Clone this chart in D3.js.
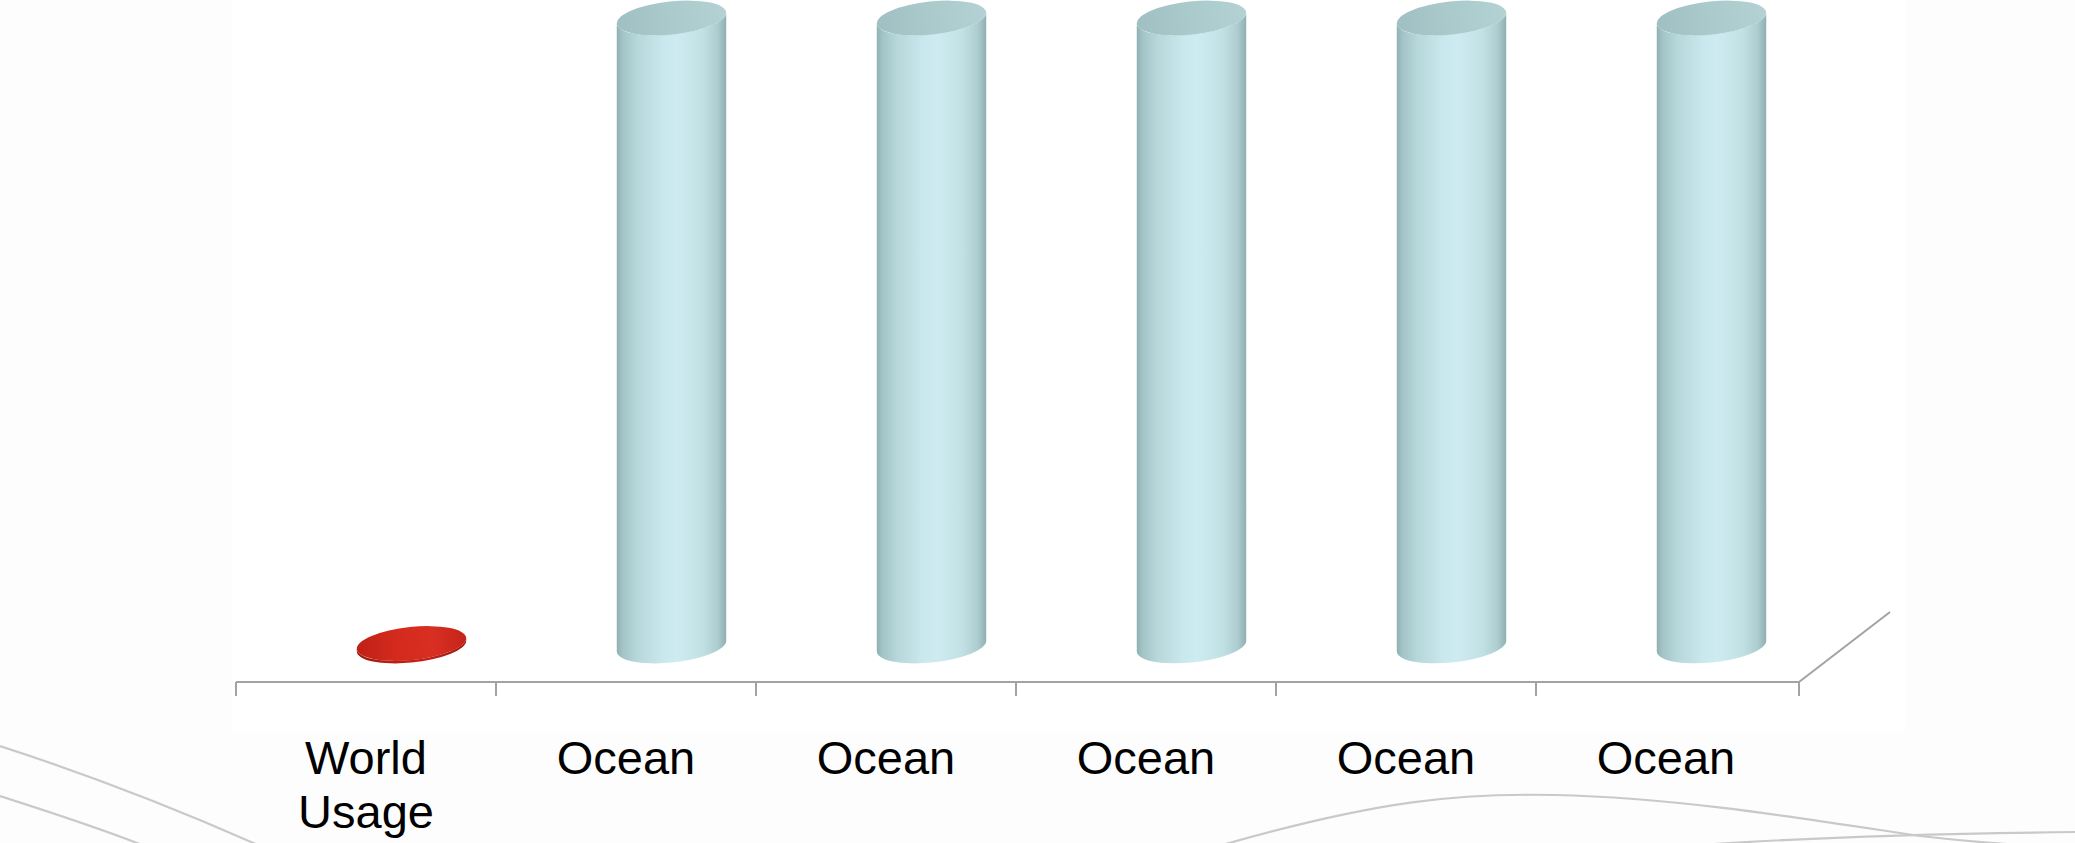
<!DOCTYPE html>
<html>
<head>
<meta charset="utf-8">
<script src="https://cdn.jsdelivr.net/npm/d3@7"></script>
<style>
  html, body { margin: 0; padding: 0; background: #ffffff; }
  svg { display: block; }
  .cat { font-family: "Liberation Sans", Arial, sans-serif; font-size: 47px; fill: #000; }
</style>
</head>
<body>
<svg id="chart" width="2075" height="843"></svg>
<script>
// Categories and values (share of water, %)
const categories = ["World Usage", "Ocean", "Ocean", "Ocean", "Ocean", "Ocean"];
const values = [0.4, 100, 100, 100, 100, 100];
const barKinds = ["usage", "ocean", "ocean", "ocean", "ocean", "ocean"];

const W = 2075, H = 843;
const svg = d3.select("#chart");

// Plot geometry
const axisY = 682;
const depth = { dx: 91, dy: -70 };   // floor depth (3D projection)
const plotLeft = 236, plotRight = 1796;
const maxBarPx = 628;
const rx = 55, ry = 16.5, tilt = -6; // cylinder ellipse shape

const x = d3.scaleBand().domain(d3.range(categories.length)).range([plotLeft, plotRight]).padding(0);
const y = d3.scaleLinear().domain([0, 100]).range([0, maxBarPx]);

const defs = svg.append("defs");

function hGrad(id, stops) {
  const g = defs.append("linearGradient").attr("id", id).attr("x1", "0%").attr("x2", "100%").attr("y1", "0%").attr("y2", "0%");
  stops.forEach(([o, c]) => g.append("stop").attr("offset", o).attr("stop-color", c));
}
hGrad("oceanBody", [["0%", "#8fafb2"], ["5%", "#a3c4c7"], ["18%", "#b6d6da"], ["42%", "#c9e8ed"], ["55%", "#cdebf0"], ["78%", "#c2e1e5"], ["92%", "#adcdd0"], ["100%", "#90afb2"]]);
hGrad("oceanTop", [["0%", "#9fbfc2"], ["45%", "#a9c9cb"], ["100%", "#b4d2d4"]]);
hGrad("usageBody", [["0%", "#9a180f"], ["30%", "#b81e13"], ["60%", "#c2241a"], ["100%", "#9c1a10"]]);
hGrad("usageTop", [["0%", "#c01f15"], ["35%", "#d42a1e"], ["70%", "#d82f22"], ["100%", "#c5241a"]]);

// Page background panel
svg.append("rect").attr("x", 0).attr("y", 0).attr("width", W).attr("height", H).attr("fill", "#fdfdfd");
svg.append("rect").attr("x", 232).attr("y", 0).attr("width", 1673).attr("height", 732).attr("fill", "#ffffff");

// Decorative sweeping lines
const swoosh = [
  "M0,746 C80,772 170,806 258,845",
  "M0,796 C50,812 100,828 142,845",
  "M1222,845 C1380,800 1460,793 1555,795 C1680,798 1800,818 1920,836 C1980,843 2030,846 2075,848",
  "M1700,845 C1800,838 1900,834 2075,832"
];
svg.append("g").selectAll("path").data(swoosh).join("path")
  .attr("d", d => d).attr("fill", "none").attr("stroke", "#c9c9c9").attr("stroke-width", 2.2);

// Axis: front edge, ticks at category boundaries, and side edge of the floor
const axis = svg.append("g").attr("stroke", "#a3a3a3").attr("stroke-width", 2).attr("fill", "none");
axis.append("line").attr("x1", plotLeft).attr("x2", plotRight + 3).attr("y1", axisY).attr("y2", axisY);
const tickXs = d3.range(categories.length).map(i => x(i)).concat([plotRight + 3]);
axis.selectAll("line.tick").data(tickXs).join("line").attr("class", "tick")
  .attr("x1", d => d).attr("x2", d => d).attr("y1", axisY).attr("y2", axisY + 14);
axis.append("line").attr("x1", plotRight + 3).attr("y1", axisY).attr("x2", plotRight + 3 + depth.dx).attr("y2", axisY + depth.dy);

// Point on a rotated ellipse
const a = tilt * Math.PI / 180;
function ept(cx, cy, t) {
  return [cx + rx * Math.cos(t) * Math.cos(a) - ry * Math.sin(t) * Math.sin(a),
          cy + rx * Math.cos(t) * Math.sin(a) + ry * Math.sin(t) * Math.cos(a)];
}
const t0 = Math.atan(-(ry / rx) * Math.tan(a));

function bodyPath(cx, yTop, yBot) {
  const Lt = ept(cx, yTop, t0 + Math.PI), Rt = ept(cx, yTop, t0);
  const Lb = ept(cx, yBot, t0 + Math.PI), Rb = ept(cx, yBot, t0);
  return `M${Lt[0]},${Lt[1]} L${Lb[0]},${Lb[1]} A${rx},${ry} ${tilt} 0 0 ${Rb[0]},${Rb[1]} ` +
         `L${Rt[0]},${Rt[1]} A${rx},${ry} ${tilt} 0 1 ${Lt[0]},${Lt[1]} Z`;
}

// Cylinders
const bars = svg.append("g").selectAll("g").data(values.map((v, i) => ({ v, i, kind: barKinds[i] }))).join("g");
bars.each(function (d) {
  const g = d3.select(this);
  const cx = x(d.i) + x.bandwidth() / 2 + depth.dx / 2;
  const yBot = axisY + depth.dy / 2 - 1;
  const yTop = yBot - y(d.v);
  g.append("path").attr("d", bodyPath(cx, yTop, yBot))
    .attr("fill", d.kind === "ocean" ? "url(#oceanBody)" : "url(#usageBody)");
  g.append("ellipse").attr("cx", cx).attr("cy", yTop).attr("rx", rx).attr("ry", ry)
    .attr("transform", `rotate(${tilt},${cx},${yTop})`)
    .attr("fill", d.kind === "ocean" ? "url(#oceanTop)" : "url(#usageTop)");
});

// Category labels (wrap two-word labels onto two lines)
const labels = svg.append("g");
categories.forEach((c, i) => {
  const t = labels.append("text").attr("class", "cat").attr("text-anchor", "middle")
    .attr("x", x(i) + x.bandwidth() / 2).attr("y", 774);
  c.split(" ").forEach((w, k) => {
    t.append("tspan").attr("x", x(i) + x.bandwidth() / 2).attr("dy", k === 0 ? 0 : 54).text(w);
  });
});
</script>
</body>
</html>
